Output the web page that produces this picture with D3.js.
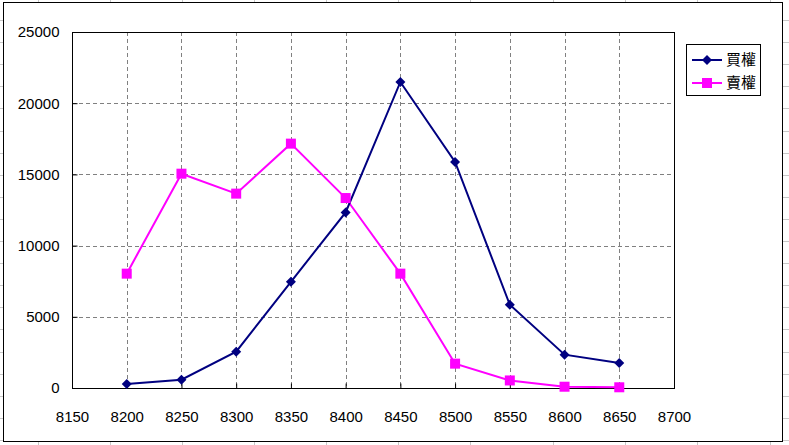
<!DOCTYPE html>
<html><head><meta charset="utf-8">
<script src="https://cdn.jsdelivr.net/npm/d3@7"></script>
<style>body{margin:0;background:#fff}svg{display:block}</style>
</head><body>
<svg id="c" width="789" height="445"></svg>
<script>
const strikes = [8200,8250,8300,8350,8400,8450,8500,8550,8600,8650];
const callOI = [280,580,2550,7460,12330,21490,15870,5850,2340,1760];
const putOI  = [8030,15050,13650,17160,13340,8030,1710,530,90,50];
const seriesNames = ["買權","賣權"];
const xTicks = [8150,8200,8250,8300,8350,8400,8450,8500,8550,8600,8650,8700];
const yTicks = [0,5000,10000,15000,20000,25000];

const svg = d3.select("#c");
const W=789,H=445;
// spreadsheet grid behind
const sheet = svg.append("g").attr("stroke","#c8c8c8").attr("stroke-width",1);
[38,110,182,254,326,398,470,553,625,697,770].forEach(x=>sheet.append("line").attr("x1",x+0.5).attr("x2",x+0.5).attr("y1",0).attr("y2",H));
for(let y=20;y<H;y+=22.1){sheet.append("line").attr("x1",0).attr("x2",W).attr("y1",Math.round(y)+0.5).attr("y2",Math.round(y)+0.5);}
// chart area
svg.append("rect").attr("x",3.5).attr("y",2.5).attr("width",779).attr("height",439).attr("fill","#fff").attr("stroke","#000");

const L=72,R=674,T=32,B=388;
const x = d3.scaleLinear().domain([8150,8700]).range([L,R]);
const y = d3.scaleLinear().domain([0,25000]).range([B,T]);

const font = "'Liberation Sans', Arial, sans-serif";
// gridlines
const g = svg.append("g");
g.selectAll(".vg").data(strikes).enter().append("line")
 .attr("x1",d=>Math.round(x(d))+0.5).attr("x2",d=>Math.round(x(d))+0.5).attr("y1",T).attr("y2",B)
 .attr("stroke","#808080").attr("stroke-dasharray","4,3");
g.selectAll(".hg").data(yTicks.filter(d=>d>0&&d<25000)).enter().append("line")
 .attr("x1",L).attr("x2",R).attr("y1",d=>Math.round(y(d))+0.5).attr("y2",d=>Math.round(y(d))+0.5)
 .attr("stroke","#808080").attr("stroke-dasharray","4,3");
// plot border
svg.append("rect").attr("x",L+0.5).attr("y",T+0.5).attr("width",R-L).attr("height",B-T).attr("fill","none").attr("stroke","#000");

// axes
const xa = svg.append("g").attr("transform",`translate(0,${B+0.5})`)
 .call(d3.axisBottom(x).tickValues(xTicks).tickSizeInner(-5).tickSizeOuter(0).tickPadding(20).tickFormat(d3.format("d")));
const ya = svg.append("g").attr("transform",`translate(${L+0.5},0)`)
 .call(d3.axisLeft(y).tickValues(yTicks).tickSizeInner(-5).tickSizeOuter(0).tickPadding(13).tickFormat(d3.format("d")));
[xa,ya].forEach(a=>{a.select(".domain").remove();a.selectAll("text").attr("font-family",font).attr("font-size",15).attr("fill","#000");a.selectAll("line").attr("stroke","#000");});
xa.selectAll("text").attr("dy","0.9em");

// series
const line = d3.line().x((d,i)=>x(strikes[i])).y(d=>y(d));
const blue="#000080", pink="#ff00ff";
svg.append("path").datum(putOI).attr("d",line).attr("fill","none").attr("stroke",pink).attr("stroke-width",2);
svg.append("path").datum(callOI).attr("d",line).attr("fill","none").attr("stroke",blue).attr("stroke-width",2);
const diamond = d3.symbol().type(d3.symbolSquare).size(50)();
svg.selectAll(".pm").data(putOI).enter().append("rect")
 .attr("x",(d,i)=>x(strikes[i])-5).attr("y",d=>y(d)-5).attr("width",10).attr("height",10).attr("fill",pink);
svg.selectAll(".cm").data(callOI).enter().append("path").attr("d",diamond)
 .attr("transform",(d,i)=>`translate(${x(strikes[i])},${y(d)}) rotate(45)`).attr("fill",blue);

// legend
const lg = svg.append("g");
lg.append("rect").attr("x",686.5).attr("y",44.5).attr("width",74).attr("height",51).attr("fill","#fff").attr("stroke","#000");
const colors=[blue,pink];
seriesNames.forEach((n,i)=>{
  const cy = 60+i*23;
  lg.append("line").attr("x1",692).attr("x2",722).attr("y1",cy).attr("y2",cy).attr("stroke",colors[i]).attr("stroke-width",2);
  if(i===0) lg.append("path").attr("d",diamond).attr("transform",`translate(707,${cy}) rotate(45)`).attr("fill",blue);
  else lg.append("rect").attr("x",702).attr("y",cy-5).attr("width",10).attr("height",10).attr("fill",pink);
  lg.append("text").attr("x",726).attr("y",cy).attr("dy","0.36em").attr("font-family","'Noto Sans CJK TC', sans-serif").attr("font-size",15).text(n);
});
</script>
</body></html>
